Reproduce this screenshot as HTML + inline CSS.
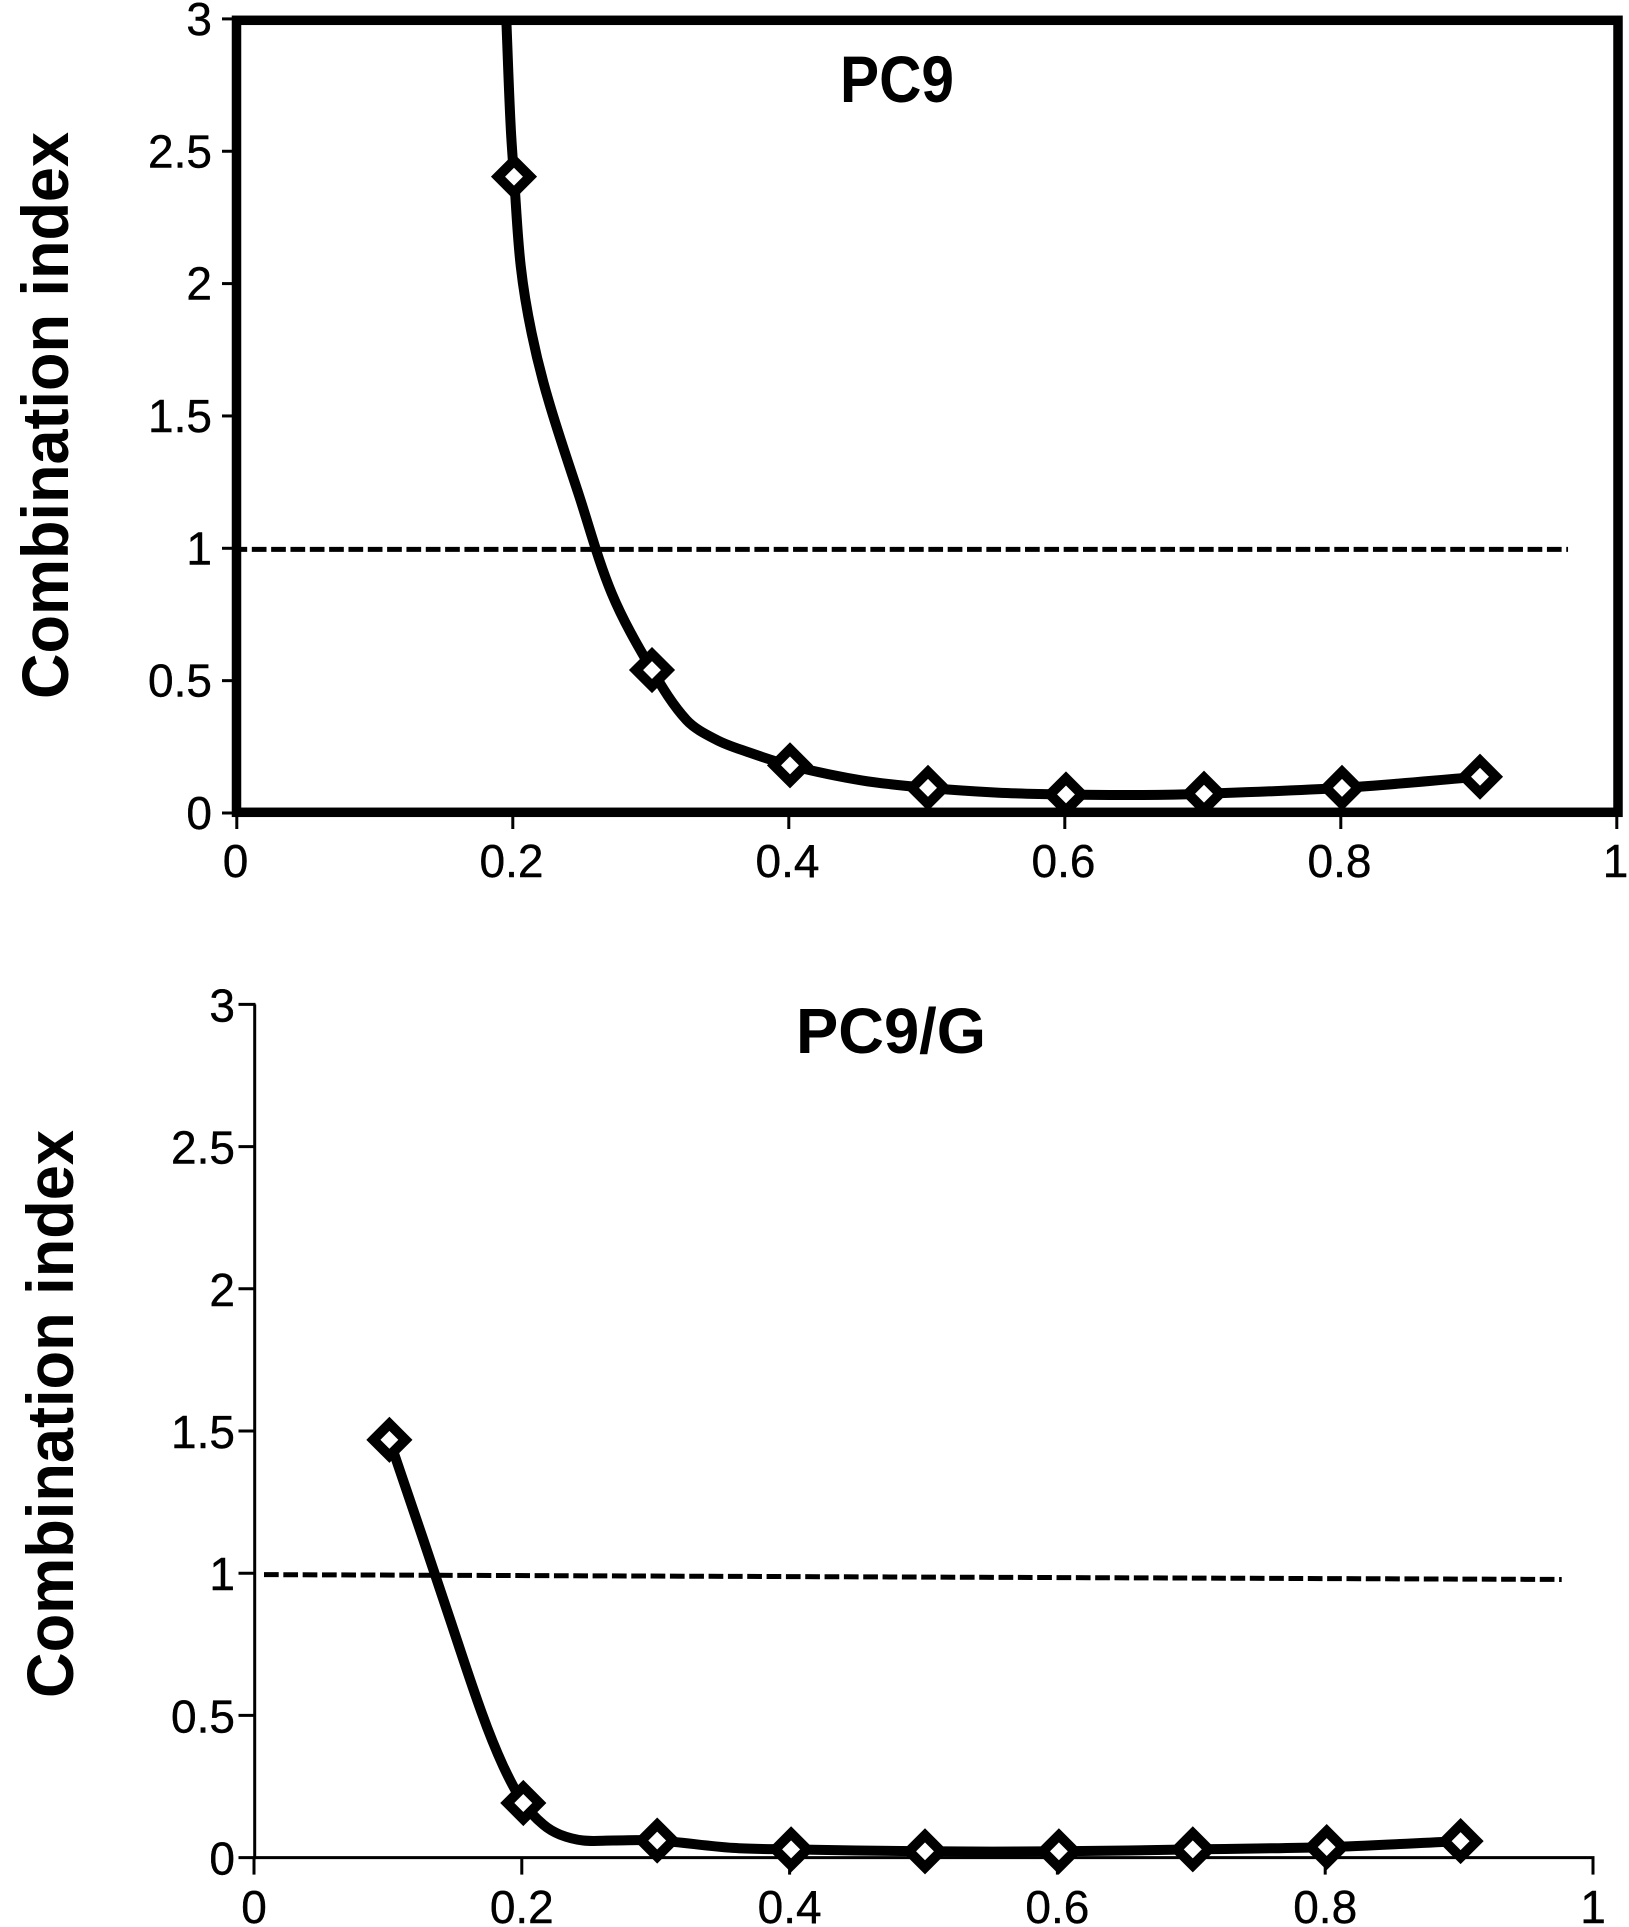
<!DOCTYPE html>
<html lang="en">
<head>
<meta charset="utf-8">
<title>Combination index charts: PC9 and PC9/G</title>
<style>
  html, body { margin: 0; padding: 0; background: #fff; }
  svg { display: block; }
  text { font-family: "Liberation Sans", sans-serif; fill: #000; }
  .tick-label { font-size: 46px; stroke: #000; stroke-width: 0.4px; }
  .axis-title, .chart-title { font-weight: bold; }
</style>
</head>
<body>
<svg id="figure" xmlns="http://www.w3.org/2000/svg" width="1629" height="1927" viewBox="0 0 1629 1927">
  <rect x="0" y="0" width="1629" height="1927" fill="#fff"/>
  <g id="chart-top">
    <text class="axis-title" transform="translate(68,699) rotate(-90)" font-size="66" textLength="567" lengthAdjust="spacingAndGlyphs">Combination index</text>
    <text class="chart-title" x="840" y="102" font-size="66" textLength="114" lengthAdjust="spacingAndGlyphs">PC9</text>
  </g>
  <g id="chart-bottom">
    <text class="axis-title" transform="translate(73,1698) rotate(-90)" font-size="66" textLength="568" lengthAdjust="spacingAndGlyphs">Combination index</text>
    <text class="chart-title" x="796" y="1053" font-size="64" textLength="190" lengthAdjust="spacingAndGlyphs">PC9/G</text>
  </g>
</svg>
<script>
// Shared axis tick values
const xTicks = [0, 0.2, 0.4, 0.6, 0.8, 1];
const yTicks = [0, 0.5, 1, 1.5, 2, 2.5, 3];

// PC9 chart: marker values
const pc9MarkerX = [0.2, 0.3, 0.4, 0.5, 0.6, 0.7, 0.8, 0.9];
const pc9MarkerY = [2.404, 0.54, 0.18, 0.095, 0.07, 0.073, 0.095, 0.137];
// PC9 chart: values read along the smoothed curve between markers
const pc9CurveX = [0.1944, 0.1975, 0.2049, 0.2128, 0.2249, 0.2466, 0.2708, 0.3251, 0.3469, 0.3686, 0.452, 0.55, 0.65];
const pc9CurveY = [3.0, 2.6, 2.064, 1.812, 1.56, 1.208, 0.83, 0.351, 0.276, 0.232, 0.123, 0.077, 0.068];
// PC9 chart: reference line
const pc9RefX = [-0.004, 0.9638];
const pc9RefY = [0.996, 0.996];

// PC9/G chart: marker values
const pc9gMarkerX = [0.1, 0.2, 0.3, 0.4, 0.5, 0.6, 0.7, 0.8, 0.9];
const pc9gMarkerY = [1.469, 0.192, 0.06, 0.029, 0.022, 0.022, 0.029, 0.037, 0.058];
// PC9/G chart: values read along the smoothed curve between markers
const pc9gCurveX = [0.1253, 0.1453, 0.1689, 0.1851, 0.2149, 0.2274, 0.2448, 0.2672, 0.3566];
const pc9gCurveY = [1.118, 0.837, 0.509, 0.321, 0.116, 0.081, 0.06, 0.06, 0.034];
// PC9/G chart: reference line
const pc9gRefX = [0.00635, 0.9755];
const pc9gRefY = [0.995, 0.978];

const NS = 'http://www.w3.org/2000/svg';

function make(parent, tag, attrs, text) {
  const el = document.createElementNS(NS, tag);
  for (const k in attrs) el.setAttribute(k, attrs[k]);
  if (text !== undefined) el.textContent = text;
  parent.appendChild(el);
  return el;
}

// Unit tangent at point i of a polyline
function tangent(pts, i) {
  const a = pts[Math.max(0, i - 1)];
  const b = pts[Math.min(pts.length - 1, i + 1)];
  const dx = b[0] - a[0];
  const dy = b[1] - a[1];
  const len = Math.hypot(dx, dy) || 1;
  return [dx / len, dy / len];
}

// Smooth path whose handle lengths follow each segment's own length, which avoids kinks at unevenly spaced points
function smoothPath(pts) {
  let d = 'M' + pts[0][0].toFixed(1) + ' ' + pts[0][1].toFixed(1);
  for (let i = 0; i < pts.length - 1; i++) {
    const p1 = pts[i];
    const p2 = pts[i + 1];
    const h = Math.hypot(p2[0] - p1[0], p2[1] - p1[1]) / 3;
    const t1 = tangent(pts, i);
    const t2 = tangent(pts, i + 1);
    d += 'C' + (p1[0] + t1[0] * h).toFixed(1) + ' ' + (p1[1] + t1[1] * h).toFixed(1) + ' ' + (p2[0] - t2[0] * h).toFixed(1) + ' ' + (p2[1] - t2[1] * h).toFixed(1) + ' ' + p2[0].toFixed(1) + ' ' + p2[1].toFixed(1);
  }
  return d;
}

function fmt(v) { return String(v); }

function drawChart(cfg) {
  const g = document.getElementById(cfg.groupId);
  const x = function (v) { return cfg.x0 + cfg.xScale * v; };
  const y = function (v) { return cfg.y0 - cfg.yScale * v; };

  // Axis ticks and labels
  xTicks.forEach(function (t) {
    const tick = make(g, 'line', { x1: x(t) + cfg.tickShift, x2: x(t) + cfg.tickShift, y1: y(0), y2: y(0) + cfg.tickLen, stroke: '#000', 'stroke-width': 3 });
    
    
    const label = make(g, 'text', { class: 'tick-label', x: x(t) + cfg.xLabelShift, y: cfg.xLabelY, 'text-anchor': 'middle' }, fmt(t));
    
    
  });
  yTicks.forEach(function (t) {
    const tick = make(g, 'line', { x1: x(0) - cfg.tickLen, x2: x(0), y1: y(t), y2: y(t), stroke: '#000', 'stroke-width': 3 });
    
    
    const label = make(g, 'text', { class: 'tick-label', x: cfg.yLabelX, y: y(t) + cfg.yLabelDy, 'text-anchor': 'end' }, fmt(t));
    
    
  });

  // Axes or frame
  if (cfg.frame) {
    const frame = make(g, 'rect', { x: x(0) - 1.5, y: y(3) + 1.4, width: x(1) - x(0) + 1.5, height: y(0) - y(3) - 2.1, fill: 'none', stroke: '#000', 'stroke-width': 9.5 });
    
    
  } else {
    const yAxis = make(g, 'line', { x1: x(0) - 0.8, x2: x(0) - 0.8, y1: y(3), y2: y(0) + 1.5, stroke: '#000', 'stroke-width': 3 });
    
    
    const xAxis = make(g, 'line', { x1: x(0) - 0.8, x2: x(1), y1: y(0), y2: y(0), stroke: '#000', 'stroke-width': 3 });
    
    
  }

  // Reference line at CI = 1
  const ref = make(g, 'line', { x1: x(cfg.refX[0]), x2: x(cfg.refX[1]), y1: y(cfg.refY[0]), y2: y(cfg.refY[1]), stroke: '#000', 'stroke-width': 5, 'stroke-dasharray': '14.7 4.63' });
  
  

  // Smoothed curve through markers and traced values
  const merged = [];
  cfg.markerX.forEach(function (v, i) { merged.push([v, cfg.markerY[i]]); });
  cfg.curveX.forEach(function (v, i) { merged.push([v, cfg.curveY[i]]); });
  merged.sort(function (a, b) { return a[0] - b[0]; });
  const pts = merged.map(function (p) { return [x(p[0]), y(p[1])]; });
  const curve = make(g, 'path', { d: smoothPath(pts), fill: 'none', stroke: '#000', 'stroke-width': 10, 'stroke-linecap': 'butt', 'stroke-linejoin': 'round' });
  
  

  // Diamond markers
  const r = 16;
  cfg.markerX.forEach(function (v, i) {
    const cx = x(v);
    const cy = y(cfg.markerY[i]);
    const points = (cx - r) + ',' + cy + ' ' + cx + ',' + (cy - r) + ' ' + (cx + r) + ',' + cy + ' ' + cx + ',' + (cy + r);
    const marker = make(g, 'polygon', { points: points, fill: '#fff', stroke: '#000', 'stroke-width': 10, 'stroke-linejoin': 'miter' });
    
    
  });
}

drawChart({
  groupId: 'chart-top', frame: true,
  x0: 238, xScale: 1380, y0: 813, yScale: 264.7,
  tickShift: -1.2, tickLen: 16, xLabelShift: -2.5, xLabelY: 877, yLabelX: 212, yLabelDy: 16,
  markerX: pc9MarkerX, markerY: pc9MarkerY, curveX: pc9CurveX, curveY: pc9CurveY,
  refX: pc9RefX, refY: pc9RefY
});

drawChart({
  groupId: 'chart-bottom', frame: false,
  x0: 255.5, xScale: 1339, y0: 1857.6, yScale: 284.4,
  tickShift: -1.5, tickLen: 17, xLabelShift: -1.5, xLabelY: 1923, yLabelX: 235, yLabelDy: 17,
  markerX: pc9gMarkerX, markerY: pc9gMarkerY, curveX: pc9gCurveX, curveY: pc9gCurveY,
  refX: pc9gRefX, refY: pc9gRefY
});
</script>
</body>
</html>
